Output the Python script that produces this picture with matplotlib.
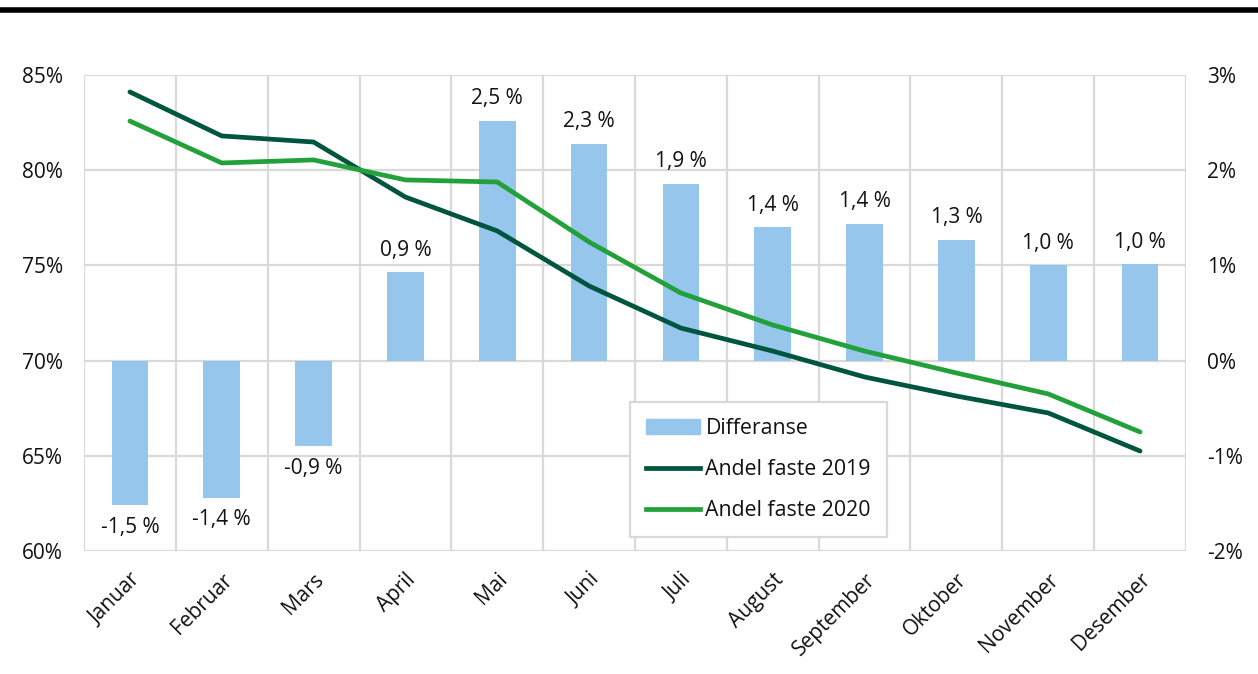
import numpy as np
import matplotlib.pyplot as plt
from matplotlib.lines import Line2D

plt.rcParams['font.family'] = ['Open Sans', 'DejaVu Sans']

# data
months = ["Januar", "Februar", "Mars", "April", "Mai", "Juni", "Juli",
          "August", "September", "Oktober", "November", "Desember"]
andel_2019 = [84.11, 81.80, 81.48, 78.59, 76.81, 73.92, 71.71, 70.50, 69.14, 68.14, 67.25, 65.25]
andel_2020 = [82.58, 80.38, 80.54, 79.49, 79.38, 76.23, 73.55, 71.87, 70.50, 69.35, 68.25, 66.25]
differanse = [-1.52, -1.44, -0.90, 0.93, 2.52, 2.28, 1.86, 1.40, 1.44, 1.27, 1.00, 1.01]

fig = plt.figure(figsize=(12.58, 6.74), dpi=100)
ax = fig.add_axes([84/1258, 1 - 551/674, 1102/1258, 476/674])
ax2 = ax.twinx()

x = np.arange(len(months))
grid_c = "#D9D9D9"
txt_c = "#111111"

# bars on right axis
ax2.bar(x, differanse, width=0.4, color="#97C6EC", zorder=2, label="Differanse")
for xi, v in zip(x, differanse):
    lab = f"{v:.1f} %".replace(".", ",")
    if v >= 0:
        ax2.text(xi, v + 0.12, lab, ha="center", va="bottom", fontsize=15, color=txt_c)
    else:
        ax2.text(xi, v - 0.12, lab, ha="center", va="top", fontsize=15, color=txt_c)
ax2.set_ylim(-2, 3)
ax2.set_yticks([-2, -1, 0, 1, 2, 3])
ax2.set_yticklabels([f"{t}%" for t in [-2, -1, 0, 1, 2, 3]])

# lines on an overlay axes so they sit above the bars
ax3 = ax.twinx()
ax3.set_ylim(60, 85)
ax3.axis("off")
ax3.plot(x, andel_2019, color="#00553F", lw=3.4, solid_capstyle="round", zorder=3)
ax3.plot(x, andel_2020, color="#22A03A", lw=3.4, solid_capstyle="round", zorder=3)

ax.set_ylim(60, 85)
ax.set_yticks([60, 65, 70, 75, 80, 85])
ax.set_yticklabels([f"{t}%" for t in [60, 65, 70, 75, 80, 85]])
ax.set_xlim(-0.5, 11.5)
ax.set_xticks(x)
ax.set_xticklabels(months, rotation=45, ha="right", rotation_mode="anchor")
ax.set_xticks(np.arange(-0.5, 12, 1), minor=True)
ax.grid(axis="y", color=grid_c, lw=1.6)
ax.grid(axis="x", which="minor", color=grid_c, lw=1.6)
ax.set_axisbelow(True)

for a in (ax, ax2, ax3):
    for s in a.spines.values():
        s.set_visible(False)
ax.tick_params(axis="both", which="both", length=0, labelsize=15, colors=txt_c)
ax.tick_params(axis="y", pad=15)
ax.tick_params(axis="x", pad=13)
ax2.tick_params(axis="y", length=0, labelsize=15, colors=txt_c, pad=15)

handles = [plt.Rectangle((0, 0), 1, 1, color="#97C6EC"),
           Line2D([], [], color="#00553F", lw=3.4),
           Line2D([], [], color="#22A03A", lw=3.4)]
leg = ax3.legend(handles, ["Differanse", "Andel faste 2019", "Andel faste 2020"],
                 loc="upper left", bbox_to_anchor=((630 - 84) / 1102, (551 - 402) / 476),
                 fontsize=15.3, frameon=True, fancybox=False, framealpha=1,
                 edgecolor=grid_c, handlelength=2.55, labelspacing=0.95,
                 borderpad=0.75, handletextpad=0.25, borderaxespad=0)
leg.get_frame().set_linewidth(1.6)
for t in leg.get_texts():
    t.set_color(txt_c)

# thick rule under the (cropped) heading
fig.add_artist(Line2D([0, 1], [1 - 10/674, 1 - 10/674], color="black", lw=4,
                      transform=fig.transFigure))

fig.savefig("out.png", dpi=100)
